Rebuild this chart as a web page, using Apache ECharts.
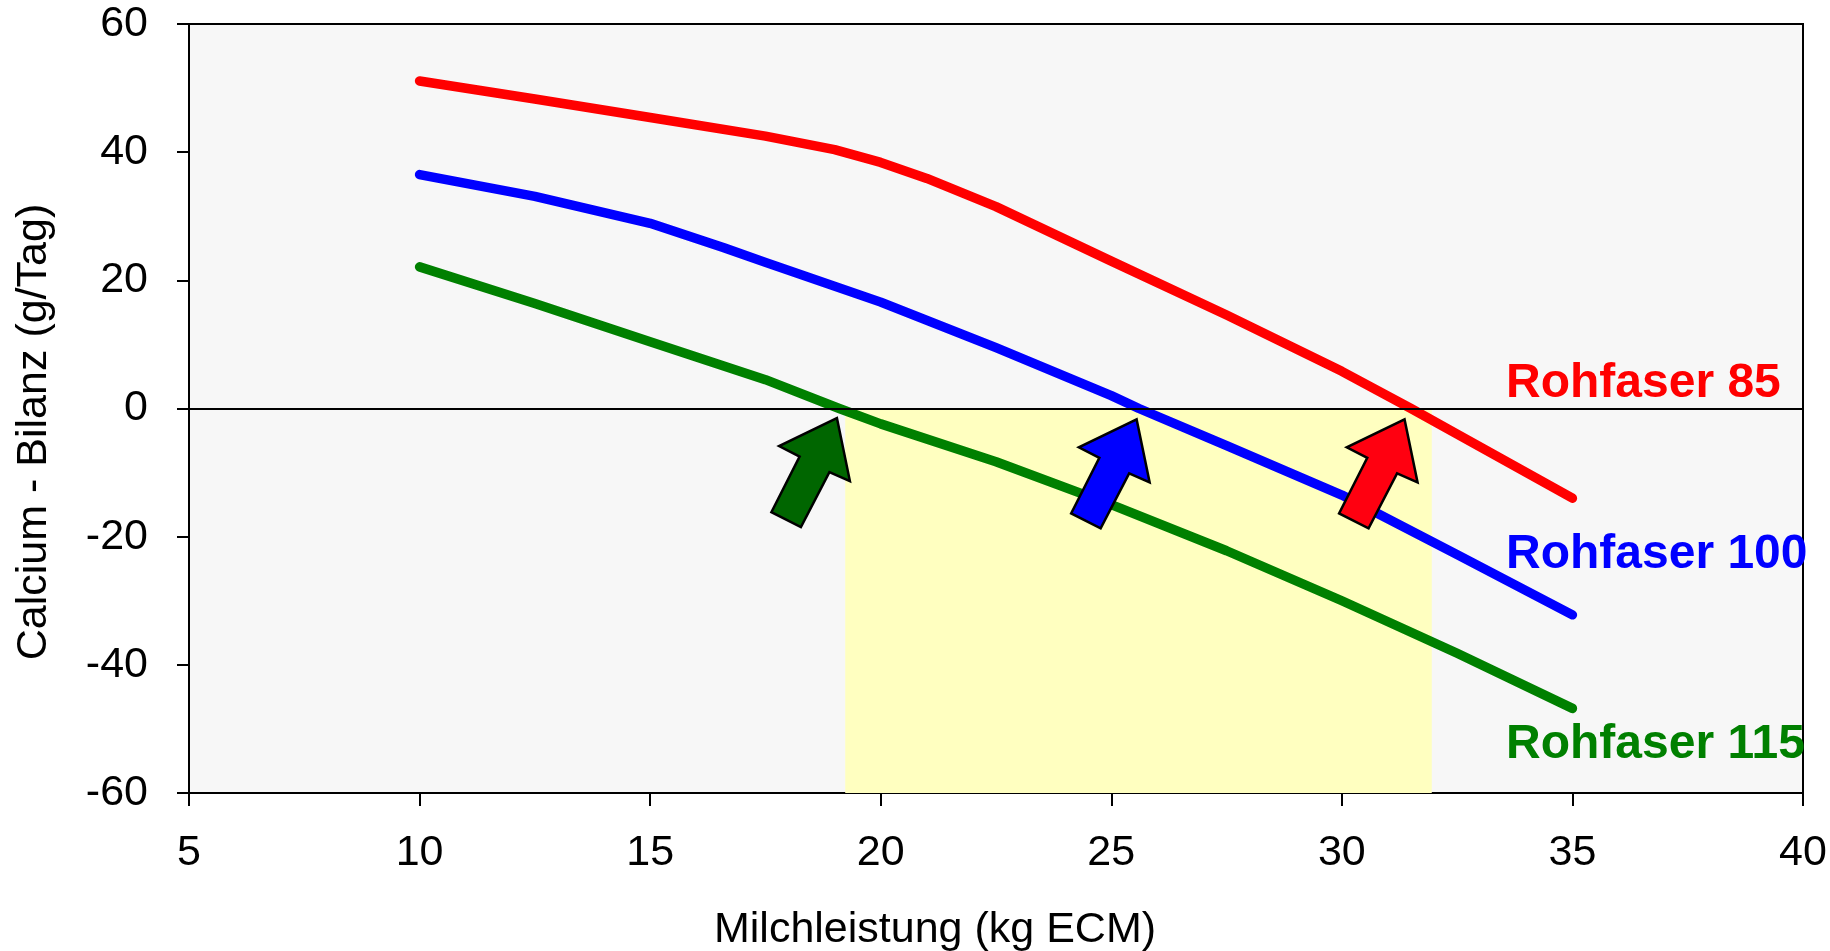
<!DOCTYPE html>
<html>
<head>
<meta charset="utf-8">
<script src="https://cdn.jsdelivr.net/npm/echarts@6/dist/echarts.min.js"></script>
<style>
html,body{margin:0;padding:0;background:#ffffff;}
#chart{width:1830px;height:951px;}
</style>
</head>
<body>
<div id="chart"></div>
<script>
// ---- data ----
const seriesNames = ['Rohfaser 85', 'Rohfaser 100', 'Rohfaser 115'];
const red85 = [[10,51.1],[12.5,48.3],[15,45.4],[17.5,42.5],[19,40.4],[20,38.4],[21,35.9],[22.5,31.5],[25,23.0],[27.5,14.6],[30,5.8],[31.5,0],[32.5,-4.0],[35,-14.0]];
const blue100 = [[10,36.5],[12.5,33.1],[15,28.9],[16.6,25.1],[17.5,22.8],[20,16.6],[22.5,9.5],[25,2.0],[25.6,0],[27.5,-5.8],[30,-13.5],[32.5,-22.8],[35,-32.2]];
const green115 = [[10,22.1],[12.5,16.4],[15,10.4],[17.5,4.5],[19.1,0],[20,-2.4],[22.5,-8.3],[25,-15.0],[27.5,-22.2],[30,-30.0],[32.5,-38.2],[35,-46.8]];
const yellowRange = [19.23, 31.95];      // x-range of shaded region (y from 0 to -60)
const arrowTips = [[19.05,-1.5],[25.55,-1.7],[31.36,-1.7]]; // green, blue, red arrows
const labelAnchors = [[33.56,3.9],[33.56,-22.9],[33.56,-52.4]];
const xTicks = {min:5, max:40, interval:5};
const yTicks = {min:-60, max:60, interval:20};
const xTitle = 'Milchleistung (kg ECM)';
const yTitle = 'Calcium - Bilanz (g/Tag)';

const lineColors = ['#ff0000', '#0000ff', '#008000'];
const arrowColors = ['#006600', '#0000ff', '#ff0010'];
const FONT = '"Liberation Sans", Arial, sans-serif';

const chart = echarts.init(document.getElementById('chart'), null, {renderer:'canvas'});

const lineSeries = [red85, blue100, green115].map((d, i) => ({
  name: seriesNames[i],
  type: 'line',
  data: d,
  showSymbol: false,
  symbol: 'none',
  smooth: false,
  z: 3,
  lineStyle: {color: lineColors[i], width: 9.5, cap: 'round', join: 'round'},
  silent: true
}));

chart.setOption({
  animation: false,
  backgroundColor: '#ffffff',
  grid: {left: 189, top: 24, right: 27, bottom: 158, show: true,
         backgroundColor: '#f7f7f7', borderColor: '#000', borderWidth: 2},
  xAxis: {
    type: 'value', min: xTicks.min, max: xTicks.max, interval: xTicks.interval,
    axisLine: {show: true, onZero: false, lineStyle: {color: '#000', width: 2}},
    axisTick: {show: true, inside: false, length: 13, lineStyle: {color: '#000', width: 2}},
    axisLabel: {color: '#000', fontSize: 43, fontFamily: FONT, margin: 39},
    splitLine: {show: false}
  },
  yAxis: {
    type: 'value', min: yTicks.min, max: yTicks.max, interval: yTicks.interval,
    axisLine: {show: true, onZero: false, lineStyle: {color: '#000', width: 2}},
    axisTick: {show: true, inside: false, length: 12, lineStyle: {color: '#000', width: 2}},
    axisLabel: {color: '#000', fontSize: 43, fontFamily: FONT, margin: 41},
    splitLine: {show: false}
  },
  series: [
    {
      type: 'line', data: [[yellowRange[0], 0],[yellowRange[1], -60]],
      showSymbol: false, symbol: 'none', lineStyle: {opacity: 0}, z: 1, silent: true,
      markArea: {silent: true, itemStyle: {color: '#ffffc0'},
        data: [[{coord: [yellowRange[0], 0]}, {coord: [yellowRange[1], yTicks.min]}]]},
      markLine: {silent: true, symbol: 'none', label: {show: false},
        lineStyle: {color: '#000', width: 2, type: 'solid'},
        data: [{yAxis: 0}]}
    }
  ].concat(lineSeries)
});

// arrows + labels + titles
const arrowShape = [[0,0],[13,63],[-7.5,54],[-36,109],[-65.5,94],[-37.3,38.4],[-57.8,28]];
const graphics = [];
arrowTips.forEach((tip, i) => {
  const p = chart.convertToPixel({gridIndex: 0}, tip);
  graphics.push({
    type: 'polygon', z: 100,
    shape: {points: arrowShape.map(q => [p[0] + q[0], p[1] + q[1]])},
    style: {fill: arrowColors[i], stroke: '#000', lineWidth: 2.5, lineJoin: 'miter'}
  });
});
labelAnchors.forEach((a, i) => {
  const p = chart.convertToPixel({gridIndex: 0}, a);
  graphics.push({
    type: 'text', z: 101, x: p[0], y: p[1],
    style: {text: seriesNames[i], fill: lineColors[i], font: 'bold 48px ' + FONT,
            textAlign: 'left', textVerticalAlign: 'middle'}
  });
});
graphics.push({
  type: 'text', z: 101, x: 935, y: 930,
  style: {text: xTitle, fill: '#000', font: '43px ' + FONT, textAlign: 'center', textVerticalAlign: 'middle'}
});
graphics.push({
  type: 'text', z: 101, x: 34, y: 432, rotation: Math.PI / 2,
  style: {text: yTitle, fill: '#000', font: '43px ' + FONT, textAlign: 'center', textVerticalAlign: 'middle'}
});
chart.setOption({graphic: graphics});
</script>
</body>
</html>
